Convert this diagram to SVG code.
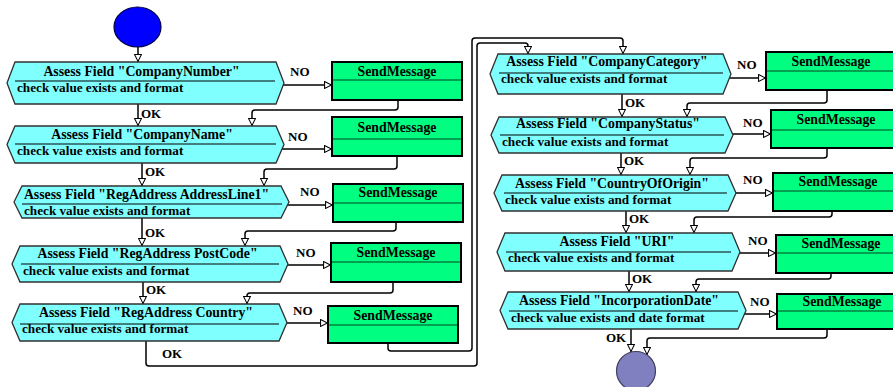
<svg xmlns="http://www.w3.org/2000/svg" width="893" height="387" viewBox="0 0 893 387">
<style>
text{font-family:"Liberation Serif","Times New Roman",serif;font-weight:bold;fill:#000}
.t{font-size:13.8px;text-anchor:middle}
.s{font-size:13.2px}
.l{font-size:13px}
.hex{fill:#80FFFF;stroke:#303030;stroke-width:1.3}
.hd{stroke:#000;stroke-width:1}
.box{fill:#00FF80;stroke:#000;stroke-width:2}
.bd{stroke:#008040;stroke-width:1.5}
.c{fill:none;stroke:#000;stroke-width:1.5;marker-end:url(#arr)}
</style>
<defs>
<marker id="arr" viewBox="0 0 10 10" refX="10" refY="5" markerWidth="9" markerHeight="8" markerUnits="userSpaceOnUse" orient="auto">
<path d="M0.7,0.7 L9.3,5 L0.7,9.3 Z" fill="#fff" stroke="#000" stroke-width="1.3"/>
</marker>
</defs>
<g id="connectors">
<path class="c" d="M138,47 V62"/>
<path class="c" d="M138,102 V126"/>
<path class="c" d="M398,100 V107 Q398,110 395,110 H255 Q252,110 252,113 V126"/>
<path class="c" d="M279,85 H332"/>
<path class="c" d="M142,161 V186"/>
<path class="c" d="M397,156 V166 Q397,169 394,169 H267 Q264,169 264,172 V186"/>
<path class="c" d="M279,149 H332"/>
<path class="c" d="M142,216 V246"/>
<path class="c" d="M396,222 V228 Q396,231 393,231 H248 Q245,231 245,234 V246"/>
<path class="c" d="M284,205 H333"/>
<path class="c" d="M143,280 V304"/>
<path class="c" d="M393,282 V290 Q393,293 390,293 H250 Q247,293 247,296 V304"/>
<path class="c" d="M283,265 H331"/>
<path class="c" d="M146,339 V363 Q146,366 149,366 H474 Q477,366 477,363 V46 Q477,43 480,43 H525 Q528,43 528,46 V54"/>
<path class="c" d="M388,343 V348 Q388,351 391,351 H469 Q472,351 472,348 V41 Q472,38 475,38 H620 Q623,38 623,41 V54"/>
<path class="c" d="M282,323 H328"/>
<path class="c" d="M622,92 V117"/>
<path class="c" d="M827,90 V100 Q827,103 824,103 H690 Q687,103 687,106 V117"/>
<path class="c" d="M726,78 H766"/>
<path class="c" d="M621,151 V175"/>
<path class="c" d="M827,148 V155 Q827,158 824,158 H693 Q690,158 690,161 V175"/>
<path class="c" d="M728,134 H771"/>
<path class="c" d="M626,209 V233"/>
<path class="c" d="M832,211 V214 Q832,217 829,217 H697 Q694,217 694,220 V233"/>
<path class="c" d="M731,193 H773"/>
<path class="c" d="M629,269 V292"/>
<path class="c" d="M831,273 V276 Q831,279 828,279 H699 Q696,279 696,282 V292"/>
<path class="c" d="M735,253 H776"/>
<path class="c" d="M631,327 V352"/>
<path class="c" d="M827,329 V335 Q827,338 824,338 H650 Q647,338 647,341 V355"/>
<path class="c" d="M741,314 H777"/>
<text class="l" x="290" y="76">NO</text>
<text class="l" x="288" y="141">NO</text>
<text class="l" x="300" y="196">NO</text>
<text class="l" x="296" y="257">NO</text>
<text class="l" x="293" y="315">NO</text>
<text class="l" x="737" y="69">NO</text>
<text class="l" x="743" y="127">NO</text>
<text class="l" x="743" y="184">NO</text>
<text class="l" x="748" y="245">NO</text>
<text class="l" x="750" y="306">NO</text>
<text class="l" x="141" y="118">OK</text>
<text class="l" x="145" y="176">OK</text>
<text class="l" x="145" y="237">OK</text>
<text class="l" x="146" y="294">OK</text>
<text class="l" x="162" y="358">OK</text>
<text class="l" x="625" y="107">OK</text>
<text class="l" x="624" y="165">OK</text>
<text class="l" x="629" y="223">OK</text>
<text class="l" x="632" y="283">OK</text>
<text class="l" x="606" y="342">OK</text>
</g>
<g id="start"><ellipse cx="137.5" cy="27" rx="23.5" ry="20" fill="#0000FF" stroke="#000040" stroke-width="1.2"/></g>
<g id="end"><circle cx="636" cy="371" r="19.5" fill="#8080C0" stroke="#404060" stroke-width="1.2"/></g>

<g id="assess-companynumber">
<path class="hex" d="M7,83 L15,62 H276 L284,83 L276,104 H15 Z"/>
<line class="hd" x1="15" y1="81" x2="275" y2="81"/>
<text class="t" x="141.5" y="76">Assess Field "CompanyNumber"</text>
<text class="s" x="17" y="92">check value exists and format</text>
</g>
<g id="send-1"><rect class="box" x="332" y="62" width="130" height="38"/><line class="bd" x1="333" y1="80" x2="461" y2="80"/><text class="t" x="397" y="76">SendMessage</text></g>

<g id="assess-companyname">
<path class="hex" d="M7,144.5 L15,126 H276 L284,144.5 L276,163 H15 Z"/>
<line class="hd" x1="15" y1="144" x2="276" y2="144"/>
<text class="t" x="142" y="139">Assess Field "CompanyName"</text>
<text class="s" x="17" y="155">check value exists and format</text>
</g>
<g id="send-2"><rect class="box" x="332" y="117" width="130" height="39"/><line class="bd" x1="333" y1="139" x2="461" y2="139"/><text class="t" x="397" y="132">SendMessage</text></g>

<g id="assess-addressline1">
<path class="hex" d="M14,202 L22,186 H281 L289,202 L281,218 H22 Z"/>
<line class="hd" x1="22" y1="204" x2="282" y2="204"/>
<text class="t" x="146.5" y="199">Assess Field "RegAddress AddressLine1"</text>
<text class="s" x="24" y="215">check value exists and format</text>
</g>
<g id="send-3"><rect class="box" x="333" y="184" width="130" height="38"/><line class="bd" x1="334" y1="203" x2="462" y2="203"/><text class="t" x="398" y="197">SendMessage</text></g>

<g id="assess-postcode">
<path class="hex" d="M12,264 L20,246 H280 L288,264 L280,282 H20 Z"/>
<line class="hd" x1="21" y1="264" x2="279" y2="264"/>
<text class="t" x="147.5" y="258">Assess Field "RegAddress PostCode"</text>
<text class="s" x="23" y="275">check value exists and format</text>
</g>
<g id="send-4"><rect class="box" x="331" y="243" width="130" height="39"/><line class="bd" x1="332" y1="262" x2="460" y2="262"/><text class="t" x="396" y="257">SendMessage</text></g>

<g id="assess-country">
<path class="hex" d="M12,322.5 L20,304 H279 L287,322.5 L279,341 H20 Z"/>
<line class="hd" x1="20" y1="324" x2="279" y2="324"/>
<text class="t" x="146" y="317">Assess Field "RegAddress Country"</text>
<text class="s" x="22" y="333">check value exists and format</text>
</g>
<g id="send-5"><rect class="box" x="328" y="306" width="130" height="37"/><line class="bd" x1="329" y1="325" x2="457" y2="325"/><text class="t" x="393" y="320">SendMessage</text></g>

<g id="assess-companycategory">
<path class="hex" d="M490,74 L498,54 H723 L731,74 L723,94 H498 Z"/>
<line class="hd" x1="499" y1="73" x2="723" y2="73"/>
<text class="t" x="607" y="66">Assess Field "CompanyCategory"</text>
<text class="s" x="501" y="83">check value exists and format</text>
</g>
<g id="send-6"><rect class="box" x="766" y="52" width="130" height="38"/><line class="bd" x1="767" y1="71" x2="895" y2="71"/><text class="t" x="831" y="66">SendMessage</text></g>

<g id="assess-companystatus">
<path class="hex" d="M491,135 L499,117 H725 L733,135 L725,153 H499 Z"/>
<line class="hd" x1="500" y1="135" x2="724" y2="135"/>
<text class="t" x="608" y="128">Assess Field "CompanyStatus"</text>
<text class="s" x="502" y="146">check value exists and format</text>
</g>
<g id="send-7"><rect class="box" x="771" y="110" width="130" height="38"/><line class="bd" x1="772" y1="130" x2="900" y2="130"/><text class="t" x="836" y="124">SendMessage</text></g>

<g id="assess-countryoforigin">
<path class="hex" d="M494,193 L502,175 H728 L736,193 L728,211 H502 Z"/>
<line class="hd" x1="504" y1="193" x2="727" y2="193"/>
<text class="t" x="612" y="188">Assess Field "CountryOfOrigin"</text>
<text class="s" x="505" y="204">check value exists and format</text>
</g>
<g id="send-8"><rect class="box" x="773" y="173" width="130" height="38"/><line class="bd" x1="774" y1="191" x2="902" y2="191"/><text class="t" x="838" y="186">SendMessage</text></g>

<g id="assess-uri">
<path class="hex" d="M497,252 L505,233 H732 L740,252 L732,271 H505 Z"/>
<line class="hd" x1="506" y1="252" x2="731" y2="252"/>
<text class="t" x="617" y="246">Assess Field "URI"</text>
<text class="s" x="508" y="262">check value exists and format</text>
</g>
<g id="send-9"><rect class="box" x="776" y="235" width="130" height="38"/><line class="bd" x1="777" y1="253" x2="905" y2="253"/><text class="t" x="841" y="248">SendMessage</text></g>

<g id="assess-incorporationdate">
<path class="hex" d="M500,310.5 L508,292 H738 L746,310.5 L738,329 H508 Z"/>
<line class="hd" x1="509" y1="311" x2="738" y2="311"/>
<text class="t" x="619" y="305">Assess Field "IncorporationDate"</text>
<text class="s" x="511" y="322">check value exists and date format</text>
</g>
<g id="send-10"><rect class="box" x="777" y="294" width="130" height="35"/><line class="bd" x1="778" y1="311" x2="906" y2="311"/><text class="t" x="842" y="306">SendMessage</text></g>
</svg>
